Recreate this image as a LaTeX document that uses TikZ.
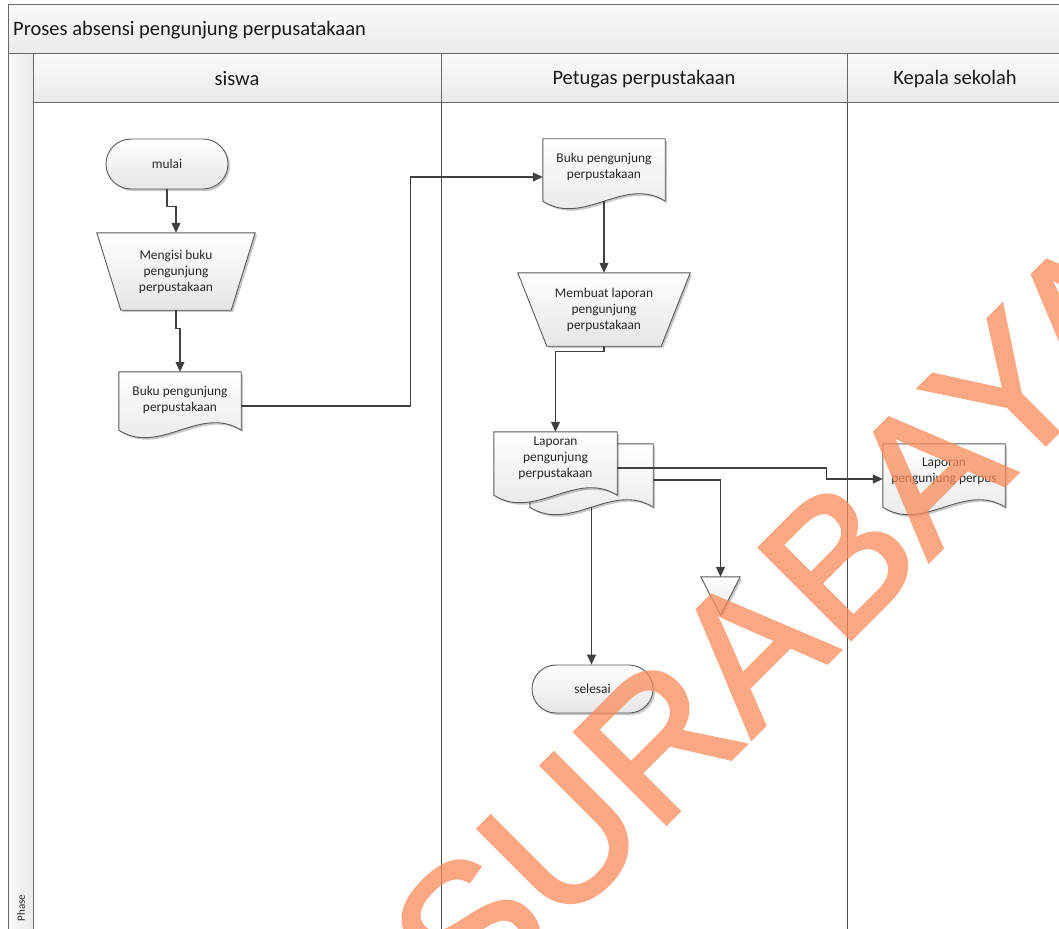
\documentclass[tikz,border=0pt]{standalone}
\usepackage{fontspec}
\setmainfont{Carlito}
\newfontfamily\wmfont{Liberation Sans}
\usetikzlibrary{arrows.meta,shapes.misc,shadows,calc}
\pgfdeclarelayer{back}
\pgfdeclarelayer{shapes}
\pgfdeclarelayer{wm}
\pgfsetlayers{back,shapes,main,wm}
\definecolor{wmorange}{RGB}{248,140,90}
\definecolor{framec}{RGB}{105,105,105}
\definecolor{lanec}{RGB}{80,80,80}
\definecolor{connc}{RGB}{64,64,64}
\definecolor{shpc}{RGB}{90,90,90}
\begin{document}
\begin{tikzpicture}[x=1pt,y=-1pt,
  lbl/.style={font=\fontsize{13.4}{16}\selectfont, align=center, text=black!85, inner sep=0pt},
  hdr/.style={font=\fontsize{20.5}{24}\selectfont, text=black!90, inner sep=0pt},
  shp/.style={draw=shpc, line width=0.9pt, top color=white, bottom color=black!10,
    drop shadow={shadow xshift=2pt, shadow yshift=-2pt, opacity=0.22, fill=black}},
  band/.style={draw=framec, line width=1pt, top color=black!2, bottom color=black!8},
  conn/.style={draw=connc, line width=1.1pt, -{Triangle[length=10pt,width=9pt]}},
  term/.style={shp, rounded rectangle, lbl},
  holder/.style={inner sep=0pt},
]
\path[use as bounding box] (0,0) rectangle (1059,928);
\clip (0,0) rectangle (1059,928);

% ---------- frame ----------
\begin{pgfonlayer}{back}
  \fill[white] (0,0) rectangle (1059,928);
  \path[band] (8,5) rectangle (1075,54);
  \path[draw=framec, line width=1pt, left color=black!2, right color=black!8] (8,54) rectangle (33,940);
  \path[band] (33,54) rectangle (441,103);
  \path[band] (441,54) rectangle (847,103);
  \path[band] (847,54) rectangle (1075,103);
  \draw[lanec, line width=1pt] (441,103) -- (441,940);
  \draw[lanec, line width=1pt] (847,103) -- (847,940);
\end{pgfonlayer}

\node[hdr, anchor=west] (title) at (13,30) {Proses absensi pengunjung perpusatakaan};
\node[hdr] (lane1) at (237,79) {siswa};
\node[hdr] (lane2) at (644,79) {Petugas perpustakaan};
\node[hdr] (lane3) at (955,79) {Kepala sekolah};
\node[font=\fontsize{11}{13}\selectfont, rotate=90, inner sep=0pt, text=black!85] (phase) at (21,908) {Phase};

% ---------- nodes ----------
\node[term, minimum width=122pt, minimum height=50pt] (mulai) at (167,164) {mulai};
\node[lbl, minimum width=158pt, minimum height=77pt] (isi) at (176,271.5) {Mengisi buku\\pengunjung\\perpustakaan};
\node[holder, minimum width=122pt, minimum height=58pt] (d1) at (180,401) {};
\node[holder, minimum width=122pt, minimum height=62pt] (d2) at (604,170) {};
\node[lbl, minimum width=172pt, minimum height=73pt] (mk) at (604,309.5) {Membuat laporan\\pengunjung\\perpustakaan};
\node[holder, minimum width=123pt, minimum height=63pt] (lb) at (591.5,475.5) {};
\node[holder, minimum width=123pt, minimum height=63pt] (ld) at (555.5,463.5) {};
\node[holder, minimum width=122pt, minimum height=63pt] (d3) at (944,475.5) {};
\node[holder, minimum width=39pt, minimum height=38pt] (tri) at (720.5,596) {};
\node[term, minimum width=121pt, minimum height=48pt] (sel) at (592.5,689) {selesai};

\node[lbl] (d1t) at ([yshift=1.5pt]d1.center) {Buku pengunjung\\perpustakaan};
\node[lbl] (d2t) at ([yshift=3pt]d2.center) {Buku pengunjung\\perpustakaan};
\node[lbl] (ldt) at ([yshift=5pt]ld.center) {Laporan\\pengunjung\\perpustakaan};
\node[lbl] (d3t) at ([yshift=4.5pt]d3.center) {Laporan\\pengunjung perpus};

% ---------- shapes ----------
\begin{pgfonlayer}{shapes}
  \path[shp] (isi.north west) -- (isi.north east) -- ($(isi.south east)+(-24,0)$) -- ($(isi.south west)+(24,0)$) -- cycle;
  \path[shp] (mk.north west) -- (mk.north east) -- ($(mk.south east)+(-29,0)$) -- ($(mk.south west)+(29,0)$) -- cycle;
  \foreach \d in {d1,d2,d3,lb,ld}{
    \path[shp] (\d.north west) -- (\d.north east) -- (\d.south east)
      .. controls +(-41,-26) and +(41,26) .. (\d.south west) -- cycle;
  }
  \path[shp] (tri.north west) -- (tri.north east) -- (tri.south) -- cycle;
\end{pgfonlayer}

% ---------- connectors ----------
\draw[conn] (mulai.south) -- ++(0,17) -| (isi.north);
\draw[conn] (isi.south) -- ++(0,18) -| (d1.north);
\draw[conn] ([yshift=-5pt]d1.east) -- ++(169,0) |- ([yshift=-7pt]d2.west);
\draw[conn] (d2.south) -- (mk.north);
\draw[conn] (mk.south) -- ++(0,5) -| (ld.north);
\draw[conn] ([yshift=-4.5pt]ld.east) -- ++(209,0) |- ([yshift=-3.5pt]d3.west);
\draw[conn] ([yshift=-4.5pt]lb.east) -| (tri.north);
\draw[conn] (lb.south) -- (lb.south |- sel.north);

% ---------- watermark ----------
\begin{pgfonlayer}{wm}
  \begin{scope}[transparency group, opacity=0.75]
  \node[rotate=45, anchor=base, inner sep=0pt, text=wmorange,
    font=\wmfont\fontsize{188}{188}\selectfont] (wmark) at (823,667)
    {\special{pdf:literal direct 2 Tr 3.5 w}SURABAYA\special{pdf:literal direct 0 Tr 1 w}};
  \end{scope}
\end{pgfonlayer}
\end{tikzpicture}
\end{document}
